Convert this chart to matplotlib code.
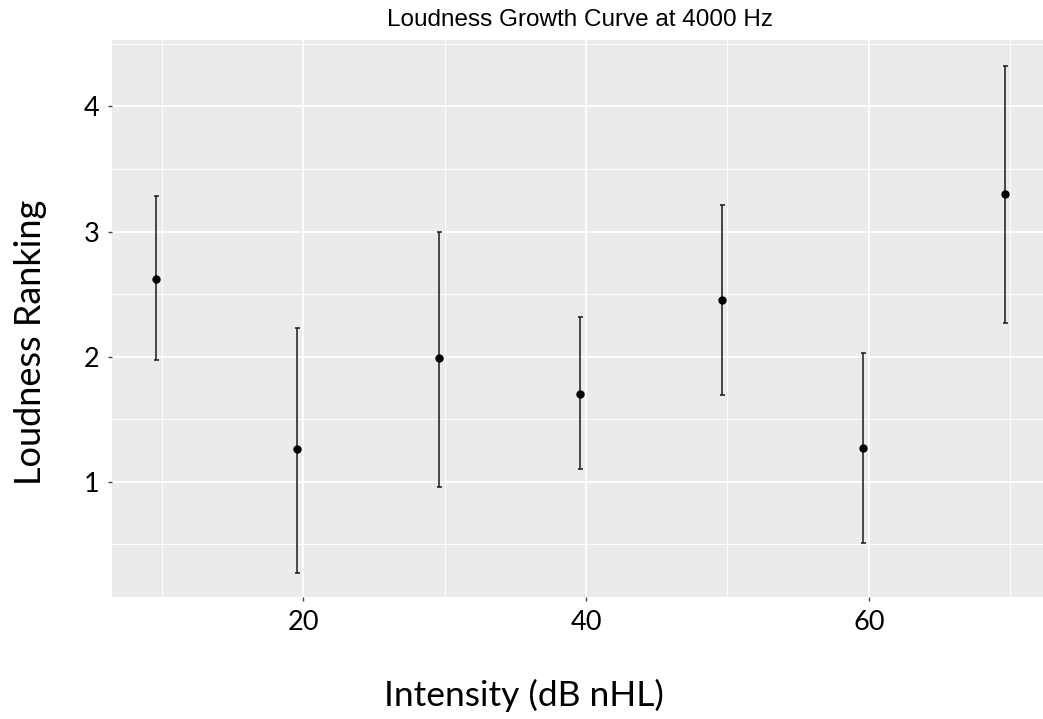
import numpy as np
import matplotlib.pyplot as plt
from matplotlib.ticker import MultipleLocator

# mean loudness ranking and error bar limits per intensity level
intensity = [9.6, 19.6, 29.6, 39.6, 49.6, 59.6, 69.6]
ranking = [2.62, 1.26, 1.99, 1.70, 2.45, 1.27, 3.30]
upper = [3.28, 2.23, 3.00, 2.32, 3.21, 2.03, 4.32]
lower = [1.97, 0.27, 0.96, 1.10, 1.69, 0.51, 2.27]

ranking = np.array(ranking)
yerr = [ranking - np.array(lower), np.array(upper) - ranking]

fig = plt.figure(figsize=(10.43, 7.19), dpi=100)
ax = fig.add_axes([112/1043, 1 - 597/719, (1043-112)/1043, (597-40)/719])
ax.set_facecolor("#ebebeb")

ax.errorbar(intensity, ranking, yerr=yerr, fmt="o", color="black", ms=5,
            elinewidth=1.1, capsize=1.8, capthick=1.1, ecolor="#1a1a1a", zorder=3)

ax.set_xlim(6.5, 72.3)
ax.set_ylim(0.08, 4.53)
ax.xaxis.set_minor_locator(MultipleLocator(10))
ax.yaxis.set_minor_locator(MultipleLocator(0.5))
ax.set_yticks([1, 2, 3, 4])
ax.set_xticks([20, 40, 60])

ax.grid(which="major", color="white", lw=1.3, zorder=0)
ax.grid(which="minor", color="white", lw=0.7, zorder=0)
ax.set_axisbelow(True)
for s in ax.spines.values():
    s.set_visible(False)

ax.tick_params(which="major", length=3, color="#444444", width=1,
               labelsize=19.5, pad=6)
ax.tick_params(which="minor", length=0)
for lab in ax.get_xticklabels() + ax.get_yticklabels():
    lab.set_family("Lato")

# axis titles sit relative to the whole figure
fig.text(524/1043, 1 - 695/719, "Intensity (dB nHL)", fontsize=25.5,
         family="Lato", ha="center", va="center")
fig.text(31/1043, 1 - 342/719, "Loudness Ranking", fontsize=26,
         family="Lato", ha="center", va="center", rotation=90)
fig.text(580/1043, 1 - 20/719, "Loudness Growth Curve at 4000 Hz",
         fontsize=17.5, family="Liberation Sans", ha="center", va="center")

fig.savefig("out.png", dpi=100)
